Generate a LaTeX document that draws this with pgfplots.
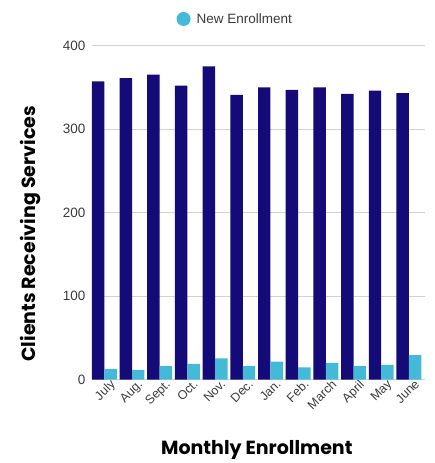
\documentclass[border=0pt]{standalone}
\usepackage{fontspec}
\setmainfont{Liberation Sans}
\newfontfamily\labelfont{Poppins}
\usepackage{pgfplots}
\pgfplotsset{compat=1.18}
\definecolor{navy}{RGB}{20,10,120}
\definecolor{cyanb}{RGB}{68,186,216}
\definecolor{tickgray}{RGB}{60,60,60}
\begin{document}
\begin{tikzpicture}
\path[use as bounding box] (-92pt,-83.5pt) rectangle (342pt,379.5pt);
\begin{axis}[
  scale only axis,
  width=333pt, height=334pt,
  ymin=0, ymax=400,
  xmin=-0.445, xmax=11.58,
  ytick={0,100,200,300,400},
  xtick={0,...,11},
  xticklabels={July,Aug.,Sept.,Oct.,Nov.,Dec.,Jan.,Feb.,March,April,May,June},
  xticklabel style={rotate=45, anchor=north east, font=\fontsize{12.5}{13}\selectfont, text=tickgray, inner sep=1pt, xshift=5pt, yshift=-2pt},
  yticklabel style={font=\fontsize{13.5}{14}\selectfont, text=tickgray, xshift=-3pt},
  /pgf/number format/assume math mode=true,
  axis line style={draw=none},
  major tick length=0pt,
  ymajorgrids, grid style={draw=gray!35, line width=0.8pt},
  xlabel={Monthly Enrollment},
  ylabel={Clients Receiving Services},
  xlabel style={font=\labelfont\bfseries\fontsize{19}{20}\selectfont, at={(axis description cs:0.495,-0.211)}, anchor=center},
  ylabel style={font=\labelfont\bfseries\fontsize{19}{20}\selectfont, at={(axis description cs:-0.186,0.436)}, anchor=center},
  ybar, bar width=0.45,
  legend style={at={(axis description cs:0.43,1.05)}, anchor=south, draw=none, font=\fontsize{13.5}{14}\selectfont, text=tickgray, legend cell align=left},
  legend image code/.code={\fill[cyanb] (0cm,0cm) circle (7pt); \path (0,0) -- (11pt,0);},
]
\addplot[fill=navy, draw=none, bar shift=-0.225, forget plot] coordinates {
 (0,357) (1,361) (2,365) (3,352) (4,375) (5,341) (6,350) (7,347) (8,350) (9,342) (10,346) (11,343)};
\addplot[fill=cyanb, draw=none, bar shift=0.225] coordinates {
 (0,12.6) (1,11.4) (2,16) (3,18.6) (4,25.4) (5,16) (6,21.3) (7,14.6) (8,19.8) (9,16) (10,17.4) (11,29.3)};
\addlegendentry{New Enrollment}
\end{axis}
\end{tikzpicture}
\end{document}
